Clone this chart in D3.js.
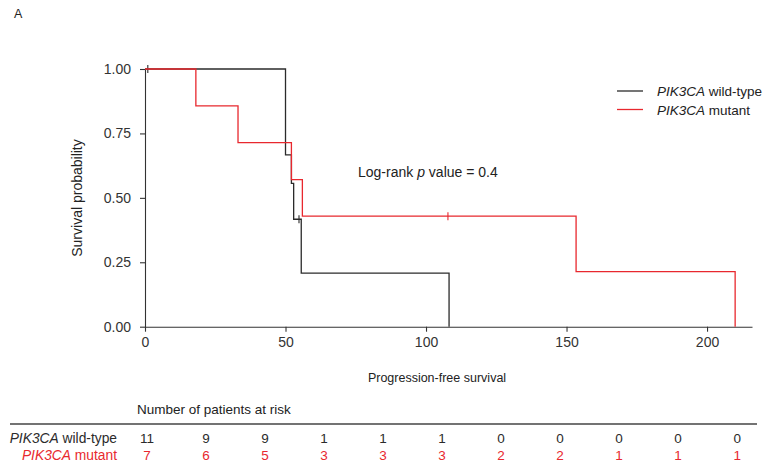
<!DOCTYPE html>
<html>
<head>
<meta charset="utf-8">
<script src="https://cdn.jsdelivr.net/npm/d3@7"></script>
<style>
  html, body { margin: 0; padding: 0; background: #fff; }
  svg text { font-family: "Liberation Sans", Arial, Helvetica, sans-serif; }
</style>
</head>
<body>
<svg id="chart" width="764" height="464"></svg>
<script>
// Kaplan–Meier step data (time, survival probability)
const groups = ["wild-type", "mutant"];
const wildTypeTimes = [0, 50, 52.1, 52.9, 55.6, 108.2];
const wildTypeSurv  = [1, 0.667, 0.556, 0.417, 0.208, 0];
const mutantTimes   = [0, 18.1, 33.1, 52.1, 56.0, 153.4, 210];
const mutantSurv    = [1, 0.857, 0.714, 0.571, 0.429, 0.214, 0];

// Censored observations
const wildTypeCensorTimes = [1, 54.8];
const wildTypeCensorSurv  = [1, 0.417];
const mutantCensorTimes   = [107.8];
const mutantCensorSurv    = [0.429];

// Axis ticks
const xTicks = [0, 50, 100, 150, 200];
const yTicks = [0, 0.25, 0.5, 0.75, 1];

// Number at risk table
const riskTimes = [0, 21, 42, 63, 84, 105, 126, 147, 168, 189, 210];
const wildTypeAtRisk = [11, 9, 9, 1, 1, 1, 0, 0, 0, 0, 0];
const mutantAtRisk   = [7, 6, 5, 3, 3, 3, 2, 2, 1, 1, 1];

const colors = { "wild-type": "#2b2b2b", "mutant": "#e8282e" };

const svg = d3.select("#chart");
const x = d3.scaleLinear().domain([0, 216]).range([145, 752]);
const y = d3.scaleLinear().domain([0, 1]).range([326.7, 69]);

// Panel label
svg.append("text").attr("x", 14).attr("y", 18)
  .attr("font-size", 12.5).attr("fill", "#222").text("A");

// Axes
const xAxis = svg.append("g").attr("transform", `translate(0,${y(0)})`)
  .call(d3.axisBottom(x).tickValues(xTicks).tickSize(5).tickSizeOuter(0).tickPadding(5));
const yAxis = svg.append("g").attr("transform", `translate(${x(0)},0)`)
  .call(d3.axisLeft(y).tickValues(yTicks).tickSize(5).tickSizeOuter(0).tickPadding(9)
    .tickFormat(d3.format(".2f")));
[xAxis, yAxis].forEach(g => {
  g.selectAll("path,line").attr("stroke", "#333").attr("stroke-width", 1.1);
  g.selectAll("text").attr("font-size", 14).attr("fill", "#333")
    .attr("font-family", "Liberation Sans, Arial, sans-serif");
});

// Axis titles
svg.append("text").attr("x", 437).attr("y", 382).attr("text-anchor", "middle")
  .attr("font-size", 12.5).attr("fill", "#222").text("Progression-free survival");
svg.append("text").attr("transform", `translate(82,198) rotate(-90)`)
  .attr("text-anchor", "middle").attr("font-size", 14).attr("fill", "#222")
  .text("Survival probability");

// Survival curves
const line = d3.line().x(d => x(d[0])).y(d => y(d[1])).curve(d3.curveStepAfter);
const series = [
  { key: "wild-type", pts: d3.zip(wildTypeTimes, wildTypeSurv),
    cens: d3.zip(wildTypeCensorTimes, wildTypeCensorSurv) },
  { key: "mutant", pts: d3.zip(mutantTimes, mutantSurv),
    cens: d3.zip(mutantCensorTimes, mutantCensorSurv) }
];
series.forEach(s => {
  svg.append("path").datum(s.pts).attr("d", line)
    .attr("fill", "none").attr("stroke", colors[s.key]).attr("stroke-width", 1.3);
  svg.selectAll(null).data(s.cens).enter().append("line")
    .attr("x1", d => x(d[0])).attr("x2", d => x(d[0]))
    .attr("y1", d => y(d[1]) - 4).attr("y2", d => y(d[1]) + 4)
    .attr("stroke", colors[s.key]).attr("stroke-width", 1.1);
});

// Legend
const legend = svg.append("g");
groups.forEach((g, i) => {
  const ly = 91 + i * 18.5;
  legend.append("line").attr("x1", 617).attr("x2", 643).attr("y1", ly).attr("y2", ly)
    .attr("stroke", colors[g]).attr("stroke-width", 1.3);
  const t = legend.append("text").attr("x", 657).attr("y", ly + 5)
    .attr("font-size", 13.5).attr("fill", "#222");
  t.append("tspan").attr("font-style", "italic").text("PIK3CA");
  t.append("tspan").text(" " + g);
});

// Log-rank annotation
const lr = svg.append("text").attr("x", 358).attr("y", 177)
  .attr("font-size", 14).attr("fill", "#222");
lr.append("tspan").text("Log-rank ");
lr.append("tspan").attr("font-style", "italic").text("p");
lr.append("tspan").text(" value = 0.4");

// Risk table
svg.append("text").attr("x", 137).attr("y", 414)
  .attr("font-size", 13.5).attr("fill", "#222").text("Number of patients at risk");
svg.append("line").attr("x1", 10).attr("x2", 757).attr("y1", 424).attr("y2", 424)
  .attr("stroke", "#444").attr("stroke-width", 1.3);

const rows = [
  { key: "wild-type", vals: wildTypeAtRisk, yPos: 443 },
  { key: "mutant", vals: mutantAtRisk, yPos: 460 }
];
rows.forEach(r => {
  const lab = svg.append("text").attr("x", 117).attr("y", r.yPos)
    .attr("text-anchor", "end").attr("font-size", 13.8).attr("fill", colors[r.key]);
  lab.append("tspan").attr("font-style", "italic").text("PIK3CA");
  lab.append("tspan").text(" " + r.key);
  svg.selectAll(null).data(d3.zip(riskTimes, r.vals)).enter().append("text")
    .attr("x", d => x(d[0]) + 2).attr("y", r.yPos)
    .attr("text-anchor", "middle").attr("font-size", 13.5).attr("fill", colors[r.key])
    .text(d => d[1]);
});
</script>
</body>
</html>
